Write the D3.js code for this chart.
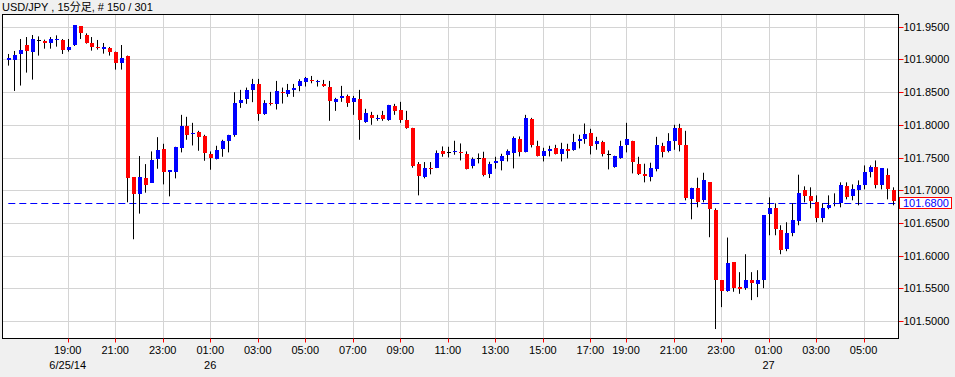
<!DOCTYPE html>
<html>
<head>
<meta charset="utf-8">
<script src="https://cdn.jsdelivr.net/npm/d3@7/dist/d3.min.js"></script>
<style>
  html, body { margin: 0; padding: 0; background: #f0f0f0; }
  svg text { font-family: "Liberation Sans", Arial, "Noto Sans CJK JP", sans-serif; font-size: 11px; }
</style>
</head>
<body>
<div id="chart"></div>
<script>
const WIDTH = 955;
const HEIGHT = 377;

// 15 minute bars, USD/JPY
const opens = [
  101.8997,101.8991,101.9083,101.9220,101.9119,101.9291,101.9286,101.9256,101.9302,101.9297,
  101.9149,101.9220,101.9505,101.9373,101.9251,101.9190,101.9159,101.9180,101.9119,101.8951,
  101.9058,101.7201,101.6937,101.7191,101.7120,101.7476,101.7628,101.7277,101.7288,101.7654,
  101.7984,101.7862,101.7893,101.7822,101.7552,101.7481,101.7633,101.7756,101.7847,101.8335,
  101.8386,101.8534,101.8625,101.8167,101.8335,101.8310,101.8508,101.8478,101.8534,101.8595,
  101.8656,101.8686,101.8656,101.8625,101.8580,101.8351,101.8417,101.8442,101.8351,101.8396,
  101.8045,101.8152,101.8091,101.8152,101.8076,101.8290,101.8229,101.8076,101.7954,101.7400,
  101.7201,101.7344,101.7349,101.7603,101.7588,101.7583,101.7588,101.7557,101.7364,101.7491,
  101.7486,101.7247,101.7410,101.7455,101.7532,101.7577,101.7786,101.7588,101.8091,101.7679,
  101.7532,101.7608,101.7649,101.7562,101.7633,101.7618,101.7756,101.7786,101.7877,101.7710,
  101.7740,101.7557,101.7359,101.7496,101.7700,101.7756,101.7405,101.7247,101.7196,101.7328,
  101.7679,101.7608,101.7756,101.7954,101.7694,101.6876,101.7038,101.6845,101.7120,101.6693,
  101.5624,101.5462,101.5899,101.5518,101.5498,101.5624,101.5563,101.5624,101.6631,101.6723,
  101.6397,101.6098,101.6342,101.6525,101.7003,101.6906,101.6820,101.6570,101.6723,101.6794,
  101.6799,101.7069,101.6906,101.7003,101.7074,101.7272,101.7349,101.7074,101.7227,101.7003
];
const highs = [
  101.9083,101.9129,101.9312,101.9342,101.9373,101.9352,101.9302,101.9342,101.9368,101.9312,
  101.9312,101.9520,101.9505,101.9398,101.9342,101.9297,101.9251,101.9190,101.9119,101.9220,
  101.9058,101.7201,101.7522,101.7399,101.7593,101.7811,101.7710,101.7303,101.7664,101.8152,
  101.8122,101.8030,101.7908,101.7847,101.7593,101.7679,101.7771,101.7847,101.8498,101.8534,
  101.8569,101.8702,101.8702,101.8376,101.8503,101.8671,101.8569,101.8625,101.8625,101.8697,
  101.8732,101.8747,101.8686,101.8686,101.8671,101.8412,101.8595,101.8462,101.8442,101.8534,
  101.8244,101.8198,101.8152,101.8213,101.8305,101.8320,101.8351,101.8213,101.7954,101.7430,
  101.7430,101.7430,101.7608,101.7669,101.7664,101.7756,101.7715,101.7593,101.7501,101.7562,
  101.7588,101.7435,101.7511,101.7557,101.7623,101.7822,101.7822,101.8152,101.8106,101.7756,
  101.7649,101.7679,101.7694,101.7725,101.7710,101.7862,101.7847,101.8020,101.7939,101.7816,
  101.7756,101.7608,101.7527,101.7756,101.8030,101.7756,101.7511,101.7405,101.7420,101.7816,
  101.7725,101.7872,101.8000,101.8015,101.7908,101.7038,101.7191,101.7267,101.7120,101.6723,
  101.5624,101.6276,101.5899,101.5747,101.6021,101.5747,101.5777,101.6616,101.6891,101.6799,
  101.6464,101.6510,101.6799,101.7237,101.7059,101.7044,101.6921,101.6799,101.6921,101.6952,
  101.7120,101.7120,101.7089,101.7150,101.7379,101.7379,101.7455,101.7333,101.7333,101.7044
];
const lows = [
  101.8905,101.8518,101.8600,101.8798,101.8691,101.9058,101.9164,101.9164,101.9195,101.9083,
  101.9119,101.9205,101.9312,101.9241,101.9134,101.9149,101.9088,101.9058,101.8844,101.8844,
  101.6815,101.6250,101.6642,101.6962,101.7110,101.7328,101.7089,101.6906,101.7181,101.7578,
  101.7771,101.7684,101.7603,101.7450,101.7313,101.7471,101.7511,101.7578,101.7817,101.8259,
  101.8320,101.8346,101.8061,101.8152,101.8295,101.8234,101.8325,101.8427,101.8427,101.8513,
  101.8585,101.8635,101.8585,101.8580,101.8061,101.8213,101.8351,101.8274,101.8152,101.7771,
  101.8030,101.8000,101.8061,101.8061,101.8061,101.8152,101.8030,101.7939,101.7344,101.6921,
  101.7181,101.7242,101.7338,101.7511,101.7501,101.7542,101.7455,101.7318,101.7333,101.7410,
  101.7211,101.7186,101.7328,101.7303,101.7440,101.7333,101.7516,101.7578,101.7654,101.7516,
  101.7440,101.7516,101.7547,101.7440,101.7486,101.7603,101.7639,101.7710,101.7547,101.7618,
  101.7516,101.7318,101.7344,101.7481,101.7578,101.7257,101.7232,101.7120,101.7135,101.7288,
  101.7501,101.7578,101.7618,101.7593,101.6845,101.6555,101.6738,101.6815,101.6281,101.4877,
  101.5212,101.5447,101.5447,101.5416,101.5477,101.5319,101.5365,101.5502,101.6311,101.6311,
  101.6021,101.6067,101.6296,101.6464,101.6815,101.6723,101.6510,101.6510,101.6708,101.6754,
  101.6738,101.6860,101.6845,101.6769,101.7013,101.7196,101.7028,101.7013,101.6860,101.6769
];
const closes = [
  101.9022,101.9068,101.9149,101.9134,101.9312,101.9291,101.9256,101.9317,101.9312,101.9149,
  101.9190,101.9520,101.9393,101.9251,101.9190,101.9174,101.9190,101.9119,101.8951,101.9022,
  101.7196,101.6947,101.7201,101.7089,101.7466,101.7618,101.7277,101.7303,101.7664,101.7984,
  101.7847,101.7882,101.7822,101.7562,101.7496,101.7618,101.7756,101.7847,101.8335,101.8376,
  101.8529,101.8625,101.8167,101.8330,101.8325,101.8513,101.8498,101.8534,101.8564,101.8671,
  101.8717,101.8671,101.8671,101.8595,101.8366,101.8396,101.8447,101.8340,101.8412,101.8076,
  101.8183,101.8106,101.8106,101.8091,101.8305,101.8213,101.8076,101.7954,101.7369,101.7211,
  101.7338,101.7333,101.7572,101.7557,101.7588,101.7593,101.7577,101.7333,101.7471,101.7491,
  101.7227,101.7405,101.7440,101.7527,101.7593,101.7801,101.7593,101.8106,101.7700,101.7532,
  101.7603,101.7633,101.7562,101.7633,101.7608,101.7740,101.7786,101.7862,101.7684,101.7756,
  101.7562,101.7557,101.7527,101.7679,101.7786,101.7440,101.7252,101.7211,101.7338,101.7694,
  101.7593,101.7756,101.7954,101.7700,101.6891,101.7038,101.6830,101.7150,101.6708,101.5619,
  101.5457,101.5884,101.5508,101.5487,101.5624,101.5579,101.5624,101.6616,101.6723,101.6403,
  101.6098,101.6342,101.6540,101.6952,101.6906,101.6830,101.6570,101.6723,101.6769,101.6799,
  101.7074,101.6906,101.7013,101.7074,101.7272,101.7349,101.7074,101.7333,101.7013,101.6835
];

// axis labels
const priceTicks = [101.50, 101.55, 101.60, 101.65, 101.70, 101.75, 101.80, 101.85, 101.90, 101.95];
const timeTickIdx = [10, 18, 26, 34, 42, 50, 58, 66, 74, 82, 90, 98, 104, 112, 120, 128, 136, 144];
const timeTickLabels = ["19:00","21:00","23:00","01:00","03:00","05:00","07:00","09:00","11:00",
                        "13:00","15:00","17:00","19:00","21:00","23:00","01:00","03:00","05:00"];
const dateLabels = {10: "6/25/14", 34: "26", 128: "27"};
const currentPrice = 101.68;
const titleText = "USD/JPY , 15分足, # 150 / 301";

const bars = opens.map((o, i) => ({i: i, o: o, h: highs[i], l: lows[i], c: closes[i]}));

const plot = {left: 2.5, top: 14.5, right: 898.5, bottom: 338.5};

const svg = d3.select("#chart").append("svg")
    .attr("width", WIDTH)
    .attr("height", HEIGHT);

const x = d3.scaleLinear().domain([0, 149]).range([8.3, 893.3]);
const y = d3.scaleLinear().domain([101.5, 101.95]).range([321, 26.7]);

// title
svg.append("text")
    .attr("x", 2)
    .attr("y", 11)
    .text(titleText);

// plot background
svg.append("rect")
    .attr("x", plot.left)
    .attr("y", plot.top)
    .attr("width", plot.right - plot.left)
    .attr("height", plot.bottom - plot.top)
    .attr("fill", "#fff");

// grid
svg.append("g").selectAll("line")
    .data(priceTicks)
    .enter().append("line")
    .attr("x1", plot.left).attr("x2", plot.right)
    .attr("y1", d => Math.round(y(d)) + 0.5)
    .attr("y2", d => Math.round(y(d)) + 0.5)
    .attr("stroke", "#d4d4d4");

svg.append("g").selectAll("line")
    .data(timeTickIdx)
    .enter().append("line")
    .attr("x1", d => Math.round(x(d)) + 0.5)
    .attr("x2", d => Math.round(x(d)) + 0.5)
    .attr("y1", plot.top).attr("y2", plot.bottom)
    .attr("stroke", "#d4d4d4");

// current price line
svg.append("line")
    .attr("x1", x(0)).attr("x2", plot.right)
    .attr("y1", Math.round(y(currentPrice)) + 0.5)
    .attr("y2", Math.round(y(currentPrice)) + 0.5)
    .attr("stroke", "#0000ff")
    .attr("stroke-dasharray", "7,4");

// candles
const candle = svg.append("g").selectAll("g")
    .data(bars)
    .enter().append("g");

candle.append("line")
    .attr("x1", d => Math.round(x(d.i)) + 0.5)
    .attr("x2", d => Math.round(x(d.i)) + 0.5)
    .attr("y1", d => y(d.h))
    .attr("y2", d => y(d.l))
    .attr("stroke", "#000");

candle.append("rect")
    .attr("x", d => Math.round(x(d.i)) - 1)
    .attr("width", 4)
    .attr("y", d => Math.round(y(Math.max(d.o, d.c))))
    .attr("height", d => Math.max(1, Math.round(Math.abs(y(d.o) - y(d.c)))))
    .attr("fill", d => d.c > d.o ? "#0000ff" : (d.c < d.o ? "#ff0000" : "#000"));

// frame
svg.append("rect")
    .attr("x", plot.left)
    .attr("y", plot.top)
    .attr("width", plot.right - plot.left)
    .attr("height", plot.bottom - plot.top)
    .attr("fill", "none")
    .attr("stroke", "#000");

// right axis
const yAxis = svg.append("g");
yAxis.selectAll("line")
    .data(priceTicks)
    .enter().append("line")
    .attr("x1", plot.right + 0.5).attr("x2", plot.right + 5)
    .attr("y1", d => Math.round(y(d)) + 0.5)
    .attr("y2", d => Math.round(y(d)) + 0.5)
    .attr("stroke", "#ff0000");
yAxis.selectAll("text")
    .data(priceTicks)
    .enter().append("text")
    .attr("x", plot.right + 5)
    .attr("y", d => y(d) + 4)
    .text(d => d.toFixed(4));

// current price box
svg.append("rect")
    .attr("x", 899.5).attr("y", 197.5)
    .attr("width", 52).attr("height", 11)
    .attr("fill", "#fff")
    .attr("stroke", "#ff0000");
svg.append("text")
    .attr("x", 903)
    .attr("y", y(currentPrice) + 4)
    .attr("fill", "#0000ff")
    .text(currentPrice.toFixed(4));

// bottom axis
const xAxis = svg.append("g");
xAxis.selectAll("line")
    .data(timeTickIdx)
    .enter().append("line")
    .attr("x1", d => Math.round(x(d)) + 0.5)
    .attr("x2", d => Math.round(x(d)) + 0.5)
    .attr("y1", plot.bottom).attr("y2", plot.bottom + 4)
    .attr("stroke", "#ff0000");
xAxis.selectAll("text.t")
    .data(timeTickIdx)
    .enter().append("text")
    .attr("class", "t")
    .attr("x", d => x(d))
    .attr("y", 354)
    .attr("text-anchor", "middle")
    .text((d, k) => timeTickLabels[k]);
xAxis.selectAll("text.d")
    .data(Object.keys(dateLabels).map(Number))
    .enter().append("text")
    .attr("class", "d")
    .attr("x", d => x(d))
    .attr("y", 369)
    .attr("text-anchor", "middle")
    .text(d => dateLabels[d]);
</script>
</body>
</html>
